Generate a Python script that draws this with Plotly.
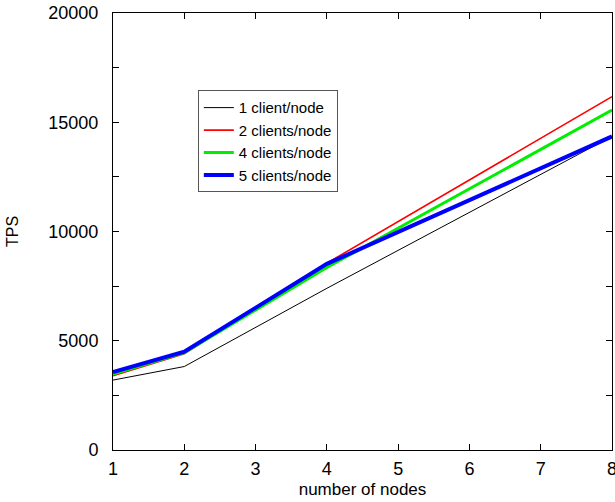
import plotly.graph_objects as go

nodes = [1, 2, 4, 8]
series_names = ["1 client/node", "2 clients/node", "4 clients/node", "5 clients/node"]
tps_1 = [3200, 3820, 7400, 14350]
tps_2 = [3400, 4400, 8550, 16170]
tps_4 = [3480, 4460, 8350, 15560]
tps_5 = [3570, 4500, 8520, 14350]
colors = ["#000000", "#ff0000", "#00ee00", "#0000ff"]
widths = [1, 1.6, 3, 4]

fig = go.Figure()
for name, vals, c, w in zip(series_names, [tps_1, tps_2, tps_4, tps_5], colors, widths):
    fig.add_trace(go.Scatter(x=nodes, y=vals, mode="lines", name=name,
                             line=dict(color=c, width=w)))

FAM = "Liberation Sans, Arial, sans-serif"
font = dict(family=FAM, size=18, color="black")
fig.update_layout(
    width=615, height=502,
    margin=dict(l=113, r=3, t=13, b=52),
    plot_bgcolor="white", paper_bgcolor="white",
    font=font,
    showlegend=True,
    legend=dict(x=0.17, y=0.823, xanchor="left", yanchor="top",
                bordercolor="#555555", borderwidth=1, bgcolor="white",
                font=dict(family=FAM, size=15, color="black"),
                tracegroupgap=0),
    xaxis=dict(range=[1, 8], dtick=1, showgrid=False, zeroline=False, automargin=False,
               showline=True, linecolor="black", linewidth=1, mirror="ticks",
               ticks="inside", ticklen=6, tickcolor="black", ticklabeloverflow="allow",
               ticklabelstandoff=2,
               title=dict(text="number of nodes", standoff=5, font=dict(family=FAM, size=17))),
    yaxis=dict(range=[0, 20000], dtick=5000, tickformat="d", showgrid=False, zeroline=False,
               automargin=False,
               showline=True, linecolor="black", linewidth=1, mirror="ticks",
               ticks="inside", ticklen=6, tickcolor="black", ticklabelstandoff=10,
               minor=dict(dtick=2500, ticks="inside", ticklen=6, tickcolor="black", showgrid=False),
               title=dict(text="TPS", standoff=25, font=dict(family=FAM, size=16))),
)
fig.write_html("out.html", config={"displayModeBar": False},
               post_script="document.body.style.margin='0';document.body.style.overflow='hidden';")
